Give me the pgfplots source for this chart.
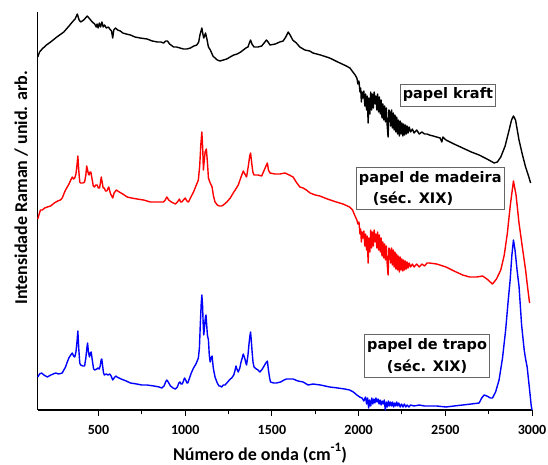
\documentclass[border=0pt]{standalone}
\usepackage{fontspec}
\setmainfont{Carlito}
\newfontfamily\boxfont{DejaVu Sans}
\usepackage{pgfplots}
\pgfplotsset{compat=1.18}

\tikzset{
  boxlabel/.style={draw=gray!80!black, line width=0.8pt, fill=white,
    inner xsep=2.5pt, inner ysep=4pt,
    font=\boxfont\bfseries\fontsize{14.5}{21.7}\selectfont},
}

\begin{document}
\begin{tikzpicture}
\begin{axis}[
    scale only axis,
    width=494.2pt, height=398pt,
    xmin=150, xmax=3000,
    ymin=0, ymax=398,
    axis x line*=bottom,
    axis y line*=left,
    axis line style={line width=1.2pt},
    ytick=\empty,
    xtick={500,1000,...,3000},
    xticklabels={500,1000,1500,2000,2500,3000},
    minor x tick num=1,
    tick align=outside,
    major tick length=6pt,
    minor tick length=4pt,
    every tick/.style={black, line width=1pt},
    xticklabel style={font=\bfseries\fontsize{14}{14}\selectfont, yshift=-6pt},
    xlabel={Número de onda (cm\raisebox{0.45em}{\fontsize{13}{13}\selectfont -1})},
    xlabel style={font=\bfseries\fontsize{18}{18}\selectfont,
      at={([yshift=-50pt]axis description cs:0.4496,0)}, anchor=base},
    ylabel={Intensidade Raman / unid. arb.},
    ylabel style={font=\bfseries\fontsize{18}{18}\selectfont,
      at={([xshift=-10.8pt]axis description cs:0,0.558)}, anchor=base},
    clip=false,
]

% papel kraft
\addplot[black, line width=1.4pt, line join=round, mark=none] coordinates {
  (150,353)(160,358)(175,361)(200,365)(224,368)(260,373)(300,378)(330,384)
  (349,388)(365,391)(378,396)(388,390)(397,388)(415,390)(435,394)(450,391)
  (464,388)(478,386)(487,383)(492,386)(498,382)(505,387)(512,383)(520,388)
  (527,383)(535,385)(545,382)(557,383)(565,381)(575,379)(582,372)(588,380)
  (598,382)(610,380)(626,379)(640,377)(660,376)(684,375)(710,373)(740,372)
  (780,371)(810,369)(840,368)(860,368)(875,367)(888,369)(898,369)(910,366)
  (933,363)(950,363)(970,362)(990,361)(1010,361)(1030,362)(1050,364)(1067,365)
  (1078,368)(1085,375)(1096,382)(1102,376)(1107,372)(1112,374)(1117,377)(1124,372)
  (1134,363)(1145,360)(1160,354)(1172,352)(1185,350)(1201,349)(1220,350)(1240,351)
  (1259,353)(1280,355)(1300,356)(1320,358)(1335,360)(1350,362)(1362,363)(1370,367)
  (1377,370)(1385,366)(1397,363)(1420,363)(1441,364)(1455,367)(1469,370)(1478,368)
  (1489,365)(1520,366)(1545,368)(1565,369)(1580,373)(1594,378)(1605,375)(1620,370)
  (1641,367)(1661,363)(1690,360)(1718,359)(1737,357)(1780,355)(1833,352)(1880,348)
  (1929,344)(1950,342)(1967,338)(1980,335)
  (1990,332)(1996,326)(2002,329)(2008,318)(2012,322)(2016,308)(2020,318)(2025,312)
  (2030,319)(2036,304)(2040,316)(2046,300)(2050,314)(2055,287)(2060,312)(2065,296)
  (2070,318)(2075,300)(2080,316)(2085,302)(2090,318)(2095,306)(2100,314)(2105,300)
  (2110,316)(2115,298)(2120,313)(2125,296)(2130,310)(2135,292)(2140,306)(2145,290)
  (2150,304)(2155,288)(2160,302)(2165,284)(2170,273)(2175,300)(2180,298)(2185,284)
  (2190,300)(2195,282)(2200,297)(2205,280)(2210,295)(2215,278)(2220,293)(2225,276)
  (2230,290)(2235,274)(2240,289)(2245,276)(2250,287)(2255,274)(2260,286)(2265,275)
  (2270,285)(2275,276)(2280,284)(2286,277)(2292,283)(2300,278)(2310,281)(2320,277)
  (2335,280)(2350,276)(2365,278)(2380,276)(2395,276)(2408,275)(2430,274)(2450,273)
  (2470,272)(2480,268)(2486,273)(2504,270)
  (2550,266)(2600,262)(2650,258)(2695,255)(2740,251)(2782,247)(2800,248)(2820,253)
  (2845,264)(2868,280)(2882,290)(2893,294)(2905,290)(2925,270)(2945,255)(2963,243)
  (2980,234)(2992,227)
};

% papel de madeira
\addplot[red, line width=1.4pt, line join=round, mark=none] coordinates {
  (150,191)(158,196)(165,200)(176,200)(190,202)(205,203)(224,204)(245,207)
  (265,209)(280,210)(291,212)(300,216)(310,220)(320,223)(330,226)(340,230)
  (349,233)(356,231)(363,232)(370,236)(376,245)(381,254)(386,240)(392,228)
  (397,227)(410,227)(420,228)(427,235)(432,244)(437,240)(442,236)(446,235)
  (451,238)(456,238)(462,232)(470,224)(477,223)(484,225)(492,225)(499,222)
  (506,222)(512,228)(516,233)(521,228)(527,222)(534,222)(540,219)(548,219)
  (559,223)(565,219)(570,216)(576,214)(582,212)(590,217)(603,220)(620,218)
  (640,216)(665,213)(690,212)(722,211)(760,210)(799,208)(840,208)(875,208)
  (885,210)(894,213)(905,210)(920,208)(943,206)(955,208)(967,211)(973,208)
  (980,208)(990,210)(1000,212)(1010,209)(1019,208)(1030,212)(1048,218)(1062,224)
  (1076,230)(1084,245)(1090,265)(1096,278)(1101,262)(1105,240)(1110,250)(1115,258)
  (1122,261)(1128,248)(1134,232)(1144,227)(1150,225)(1155,223)(1163,214)(1172,208)
  (1185,205)(1197,204)(1210,204)(1220,205)(1240,208)(1260,212)(1277,217)(1292,221)
  (1306,225)(1320,232)(1335,239)(1344,236)(1354,233)(1365,245)(1372,254)(1377,257)
  (1383,248)(1390,238)(1397,235)(1420,235)(1441,234)(1456,240)(1466,244)(1474,247)
  (1480,240)(1489,237)(1517,236)(1546,236)(1575,237)(1600,235)(1622,233)(1640,228)
  (1661,223)(1680,222)(1699,220)(1720,217)(1750,215)(1776,214)(1820,211)(1871,208)
  (1910,206)(1948,203)(1965,200)(1977,195)
  (1990,190)(1996,186)(2002,188)(2008,176)(2012,181)(2016,168)(2020,178)(2025,172)
  (2030,179)(2036,164)(2040,176)(2046,160)(2050,174)(2055,147)(2060,172)(2065,158)
  (2070,180)(2075,162)(2080,178)(2085,164)(2090,180)(2095,168)(2100,176)(2105,162)
  (2110,178)(2115,160)(2120,175)(2125,158)(2130,172)(2135,154)(2140,168)(2145,152)
  (2150,166)(2155,150)(2160,164)(2165,146)(2170,135)(2175,162)(2180,160)(2185,147)
  (2190,162)(2195,145)(2200,160)(2205,143)(2210,158)(2215,141)(2220,156)(2225,140)
  (2230,154)(2235,138)(2240,153)(2245,140)(2250,151)(2255,139)(2260,150)(2265,140)
  (2270,149)(2275,141)(2280,148)(2286,142)(2292,147)(2300,143)(2310,146)(2320,143)
  (2335,146)(2350,143)(2365,146)(2380,144)(2395,147)(2408,147)
  (2450,146)(2504,143)(2550,139)(2600,135)(2640,133)(2680,133)(2715,134)(2740,131)
  (2772,126)(2795,131)(2820,140)(2840,155)(2858,177)(2875,205)(2893,229)(2908,215)
  (2925,187)(2945,162)(2963,140)(2975,122)(2986,107)
};

% papel de trapo
\addplot[blue, line width=1.4pt, line join=round, mark=none] coordinates {
  (150,33)(160,36)(172,37)(185,35)(205,33)(225,35)(253,37)(270,36)
  (291,37)(300,40)(310,43)(320,48)(329,52)(340,55)(349,57)(356,54)
  (363,53)(370,58)(376,68)(381,79)(386,62)(392,47)(397,45)(410,44)
  (420,44)(427,52)(433,62)(437,67)(442,58)(448,53)(453,57)(458,58)
  (464,50)(472,41)(479,40)(490,41)(497,42)(504,41)(510,44)(515,50)
  (519,51)(524,44)(529,37)(534,35)(545,36)(555,35)(565,36)(573,34)
  (582,30)(590,32)(600,34)(607,33)(630,31)(660,29)(684,27)(720,26)
  (750,25)(780,25)(820,24)(850,23)(865,22)(878,24)(887,28)(894,30)
  (902,28)(915,24)(930,22)(943,21)(955,23)(963,27)(970,28)(976,26)
  (983,26)(990,29)(996,32)(1003,30)(1010,27)(1015,27)(1025,32)(1035,37)
  (1048,42)(1062,46)(1076,52)(1082,62)(1087,85)(1092,105)(1096,115)(1100,105)
  (1104,85)(1107,75)(1111,82)(1116,92)(1120,95)(1124,85)(1128,75)(1134,70)
  (1139,55)(1144,48)(1149,52)(1155,54)(1162,42)(1172,33)(1185,27)(1195,24)
  (1201,24)(1210,23)(1220,25)(1230,25)(1245,28)(1260,31)(1268,32)(1280,35)
  (1288,40)(1293,44)(1298,41)(1306,38)(1315,42)(1322,48)(1329,52)(1335,56)
  (1343,52)(1350,47)(1354,45)(1362,55)(1368,66)(1373,74)(1377,78)(1381,70)
  (1386,58)(1391,48)(1397,43)(1410,41)(1420,40)(1431,38)(1445,41)(1455,44)
  (1465,47)(1474,49)(1480,40)(1487,32)(1492,28)(1510,27)(1527,27)(1550,28)
  (1570,30)(1584,31)(1600,31)(1622,31)(1650,29)(1680,28)(1709,25)(1737,26)
  (1780,25)(1833,23)(1880,22)(1920,21)(1948,20)(1970,18)(1990,15)(2006,13)
  (2020,12)(2030,9)(2040,13)(2046,6)(2052,12)(2058,2)(2064,10)(2070,4)
  (2076,12)(2082,6)(2088,11)(2094,7)(2100,12)(2106,8)(2112,11)(2118,6)
  (2124,10)(2130,5)(2136,9)(2142,6)(2148,10)(2154,0)(2160,8)(2166,3)
  (2172,9)(2178,4)(2184,8)(2190,4)(2196,8)(2202,3)(2208,7)(2214,4)
  (2220,8)(2226,4)(2232,7)(2240,3)(2248,6)(2256,3)(2264,6)(2272,3)
  (2280,5)(2290,3)(2300,5)(2320,4)(2350,5)(2380,4)(2408,4)(2450,4)
  (2504,3)(2550,4)(2600,5)(2650,6)(2695,7)(2710,12)(2724,15)(2740,14)
  (2760,12)(2772,12)(2790,18)(2810,30)(2830,52)(2848,80)(2862,108)(2874,130)
  (2884,155)(2893,170)(2902,160)(2915,138)(2925,124)(2940,85)(2955,60)(2962,52)
  (2972,43)(2985,22)(2995,5)(3000,0)
};

\node[boxlabel] at (axis cs:2515,315) {papel kraft};
\node[boxlabel, align=left] at (axis cs:2413,221.5) {papel de madeira\\\hspace*{14pt}(séc. XIX)};
\node[boxlabel, align=center] at (axis cs:2395,54) {papel de trapo\\(séc. XIX)};
\end{axis}
\pgfresetboundingbox
\path (current axis.south west) ++(-37.8pt,-55pt) rectangle ++(548pt,465pt);
\end{tikzpicture}
\end{document}
